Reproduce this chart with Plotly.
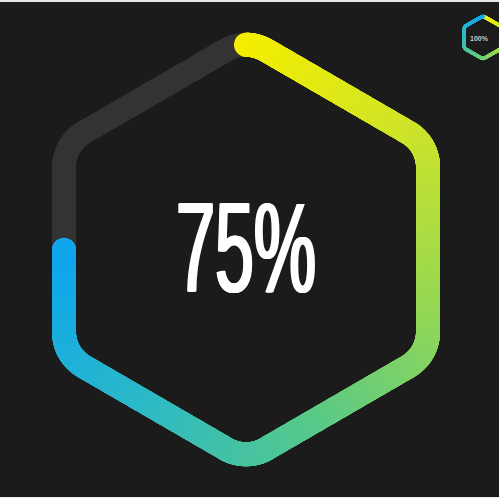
import numpy as np
import plotly.graph_objects as go

# ---- data ----
progress_value = [75]          # main ring, percent
progress_label = ["75%"]
inset_value = [100]            # small icon, percent
inset_label = ["100%"]
gradient_stops = [0.0, 0.2, 0.4, 0.6, 0.8, 1.0]
gradient_colors = ["#f6ee00", "#cfe429", "#97d853", "#58c98a", "#2ebac6", "#0fa6ee"]

W_PX, H_PX = 499, 498
BG = "#1b1b1b"
TRACK = "#333333"


def rounded_hexagon(cx, cy, rv, hw, r, n=2400):
    verts = np.array([
        [cx, cy - rv], [cx + hw, cy - rv / 2], [cx + hw, cy + rv / 2],
        [cx, cy + rv], [cx - hw, cy + rv / 2], [cx - hw, cy - rv / 2]])
    corners = []
    for i in range(6):
        P = verts[i]; A = verts[i - 1]; B = verts[(i + 1) % 6]
        u1 = (A - P) / np.linalg.norm(A - P)
        u2 = (B - P) / np.linalg.norm(B - P)
        th = np.arccos(np.clip(u1 @ u2, -1, 1))
        d = r / np.tan(th / 2)
        bis = (u1 + u2) / np.linalg.norm(u1 + u2)
        C = P + bis * r / np.sin(th / 2)
        T1 = P + u1 * d; T2 = P + u2 * d
        a1 = np.arctan2(T1[1] - C[1], T1[0] - C[0])
        a2 = np.arctan2(T2[1] - C[1], T2[0] - C[0])
        da = (a2 - a1 + np.pi) % (2 * np.pi) - np.pi
        corners.append((C, a1, da, T1, T2))
    pts = []
    C, a1, da, T1, T2 = corners[0]
    ang = np.linspace(a1 + da / 2, a1 + da, 40)
    pts.append(np.c_[C[0] + r * np.cos(ang), C[1] + r * np.sin(ang)])
    for i in range(1, 7):
        Ci, a1i, dai, T1i, T2i = corners[i % 6]
        prevT2 = corners[i - 1][4]
        pts.append(np.linspace(prevT2, T1i, 60))
        if i < 6:
            ang = np.linspace(a1i, a1i + dai, 80)
        else:
            ang = np.linspace(a1i, a1i + dai / 2, 40)
        pts.append(np.c_[Ci[0] + r * np.cos(ang), Ci[1] + r * np.sin(ang)])
    pts = np.vstack(pts)
    seg = np.r_[0, np.cumsum(np.linalg.norm(np.diff(pts, axis=0), axis=1))]
    s = np.linspace(0, seg[-1], n)
    x = np.interp(s, seg, pts[:, 0]); y = np.interp(s, seg, pts[:, 1])
    return x, y, s / seg[-1]


colorscale = [[s, c] for s, c in zip(gradient_stops, gradient_colors)]

fig = go.Figure()

# main ring
mx, my, mf = rounded_hexagon(246, 249.5, 211, 182, 40)
frac = progress_value[0] / 100
rest = mf >= frac - 0.002
fig.add_trace(go.Scatter(x=mx[rest], y=my[rest], mode="lines",
                         line=dict(color=TRACK, width=24, simplify=False),
                         hoverinfo="skip"))
keep = mf <= frac
fig.add_trace(go.Scatter(
    x=mx[keep], y=my[keep], mode="markers",
    marker=dict(size=24, color=mf[keep] * 100, colorscale=colorscale,
                cmin=0, cmax=progress_value[0], line=dict(width=0)),
    hoverinfo="skip"))

# inset icon
ix, iy, ifr = rounded_hexagon(483, 37.5, 21.5, 18.8, 4, n=700)
ikeep = ifr <= inset_value[0] / 100
fig.add_trace(go.Scatter(
    x=ix[ikeep], y=iy[ikeep], mode="markers",
    marker=dict(size=3.5, color=ifr[ikeep] * 100, colorscale=colorscale,
                cmin=0, cmax=inset_value[0], line=dict(width=0)),
    hoverinfo="skip"))

fig.add_annotation(x=246, y=247, text=progress_label[0], showarrow=False,
                   xanchor="center", yanchor="middle",
                   font=dict(family="Liberation Sans Narrow, Arial Narrow, Liberation Sans, sans-serif",
                             size=128, color="#ffffff",
                             shadow="-2px 0 0 #fff, -1px 0 0 #fff, 1px 0 0 #fff, 2px 0 0 #fff"))
fig.add_annotation(x=479, y=38, text="<b>" + inset_label[0] + "</b>", showarrow=False,
                   xanchor="center", yanchor="middle",
                   font=dict(family="Liberation Sans Narrow, Liberation Sans, sans-serif",
                             size=7, color="#c8c8c8"))

fig.add_shape(type="rect", x0=0, x1=W_PX, y0=0, y1=2, fillcolor="#e8e8e8", line_width=0, layer="above")
fig.add_shape(type="rect", x0=0, x1=W_PX, y0=497, y1=H_PX, fillcolor="#e8e8e8", line_width=0, layer="above")

fig.update_layout(
    width=W_PX, height=H_PX, margin=dict(l=0, r=0, t=0, b=0),
    paper_bgcolor=BG, plot_bgcolor=BG, showlegend=False,
    xaxis=dict(range=[0, W_PX], visible=False, fixedrange=True),
    yaxis=dict(range=[H_PX, 0], visible=False, fixedrange=True),
)

post = """
var gd = document.getElementsByClassName('plotly-graph-div')[0];
var t = gd.querySelectorAll('.annotation-text-g text')[0];
if (t) {
  var b = t.getBBox();
  var target = 140;
  var s = target / b.width;
  var c = b.x + b.width / 2;
  var ex = t.getAttribute('transform') || '';
  t.setAttribute('transform', ex + ' translate(' + c + ',0) scale(' + s + ',1) translate(' + (-c) + ',0)');
}
"""
fig.write_html("out.html", post_script=post, config={"displayModeBar": False})
